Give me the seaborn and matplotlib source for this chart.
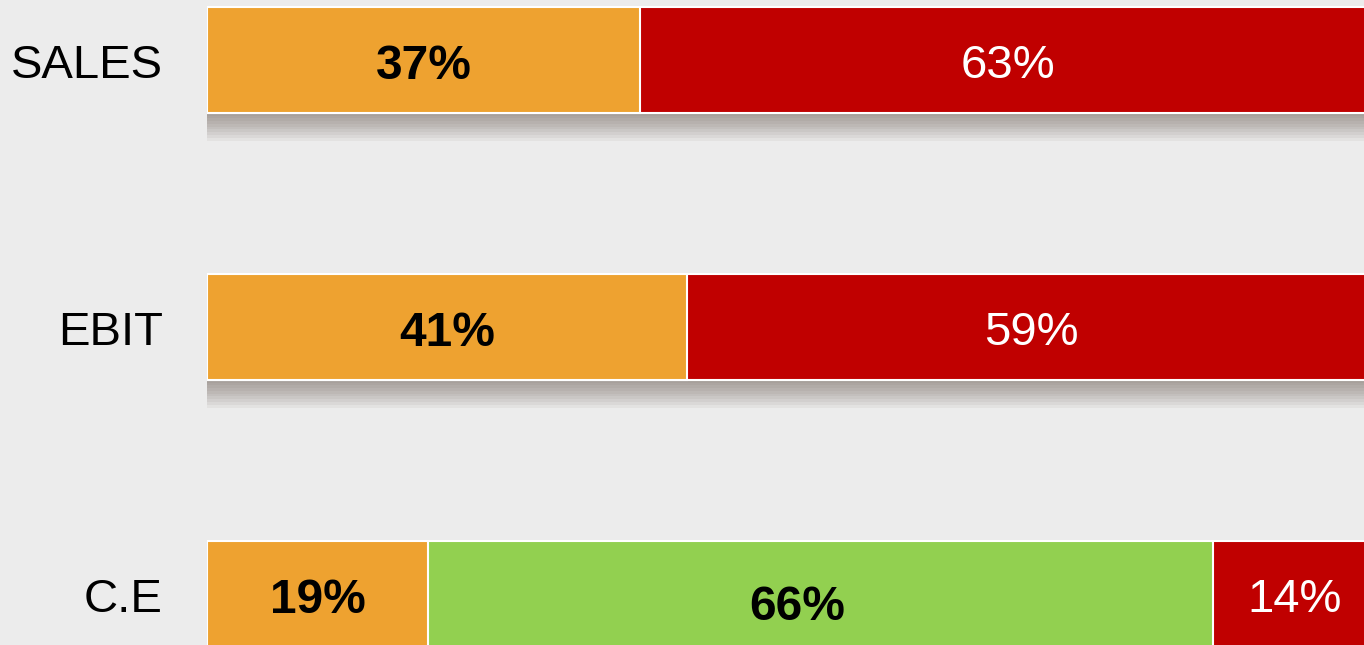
import pandas as pd
import seaborn as sns
import matplotlib.pyplot as plt
import matplotlib.patheffects as pe

# segment shares per category (percent) and their printed labels
categories = ["SALES", "EBIT", "C.E"]
orange_vals = [37, 41, 18.9]
green_vals = [None, None, 67.1]
red_vals = [63, 59, 14.0]
orange_labels = ["37%", "41%", "19%"]
green_labels = [None, None, "66%"]
red_labels = ["63%", "59%", "14%"]

ORANGE = "#EEA230"
GREEN = "#92D050"
RED = "#C00000"
BG = "#ececec"

# cumulative ends so the bars can be layered back-to-front
rows = []
for i, cat in enumerate(categories):
    o, g, r = orange_vals[i], green_vals[i], red_vals[i]
    g0 = g if g is not None else 0
    rows.append({"cat": cat, "seg": "red", "end": o + g0 + r, "start": o + g0, "label": red_labels[i]})
    if g is not None:
        rows.append({"cat": cat, "seg": "green", "end": o + g, "start": o, "label": green_labels[i]})
    rows.append({"cat": cat, "seg": "orange", "end": o, "start": 0, "label": orange_labels[i]})
df = pd.DataFrame(rows)

sns.set_style("white")
plt.rcParams["font.family"] = ["Liberation Sans", "DejaVu Sans"]

fig = plt.figure(figsize=(13.64, 6.45), dpi=100)
fig.patch.set_facecolor(BG)
ax = fig.add_axes([207 / 1364, 0, 1 - 207 / 1364, 1])
ax.set_facecolor(BG)

# soft drop shadow under the bars (stacked faint offsets -> gradient)
shadow = [pe.SimplePatchShadow(offset=(0, -k), shadow_rgbFace="#6e6258", alpha=0.07)
          for k in range(2, 22, 2)] + [pe.Normal()]
colors = {"red": RED, "green": GREEN, "orange": ORANGE}
for seg in ["red", "green", "orange"]:
    sub = df[df["seg"] == seg]
    sns.barplot(data=sub, x="end", y="cat", order=categories, orient="h",
                color=colors[seg], width=0.395, edgecolor="white", linewidth=1.5,
                saturation=1, ax=ax)
    if seg == "red":
        for p in ax.patches[-len(sub):]:
            p.set_path_effects(shadow)

for _, row in df.iterrows():
    yi = categories.index(row["cat"])
    xc = (row["start"] + row["end"]) / 2
    if row["seg"] == "red":
        ax.text(xc, yi + 0.022, row["label"], ha="center", va="center",
                color="white", fontsize=34)
    elif row["seg"] == "green":
        ax.text(xc - 2, yi + 0.05, row["label"], ha="center", va="center",
                color="black", fontsize=34.5, fontweight="bold")
    else:
        ax.text(xc, yi + 0.025, row["label"], ha="center", va="center",
                color="black", fontsize=34.5, fontweight="bold")

for yi, cat in enumerate(categories):
    fig.text(163 / 1364, 1 - (60 + 267 * yi + 6) / 645, cat, ha="right", va="center",
             fontsize=34, color="black")

ax.set_xlim(0, 98.9)
ax.set_ylim(2.191, -0.225)
ax.set_xlabel("")
ax.set_ylabel("")
ax.set_xticks([])
ax.set_yticks([])
sns.despine(ax=ax, left=True, bottom=True)

fig.savefig("out.png", dpi=100, facecolor=BG)
